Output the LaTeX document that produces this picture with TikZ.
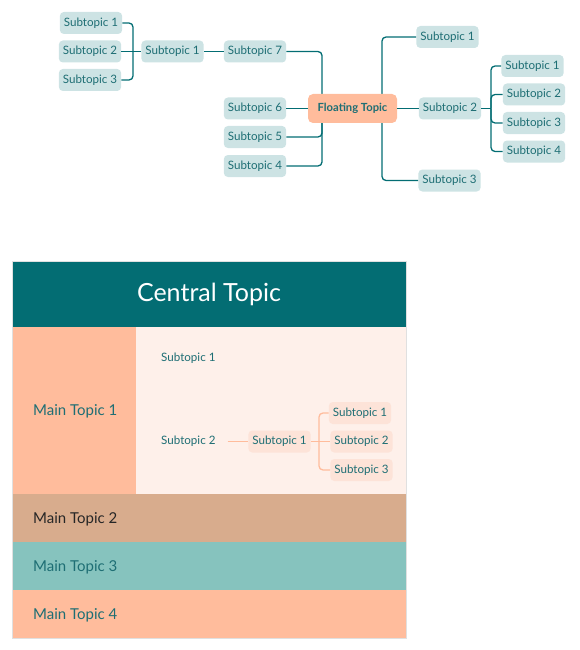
\documentclass[tikz,border=0pt]{standalone}
\usepackage{fontspec}
\setmainfont{Lato}
\definecolor{tealdark}{HTML}{036D73}
\definecolor{tealtxt}{HTML}{1E6E74}
\definecolor{subfill}{HTML}{CDE3E4}
\definecolor{salmon}{HTML}{FFBC9C}
\definecolor{paleback}{HTML}{FEF0EA}
\definecolor{palebox}{HTML}{FDE3D8}
\definecolor{tan}{HTML}{D8AC8D}
\definecolor{mint}{HTML}{86C3BE}
\begin{document}
\begin{tikzpicture}[x=1pt,y=-1pt,
  sub/.style={fill=subfill,rounded corners=4pt,minimum height=22pt,inner xsep=4pt,text=tealtxt,font=\fontsize{11.6}{13}\selectfont},
  float/.style={fill=salmon,rounded corners=5pt,minimum height=29pt,minimum width=89pt,text=tealtxt,font=\fontsize{11.2}{13}\selectfont\bfseries},
  conn/.style={draw=tealdark,line width=1.3pt,rounded corners=4pt},
  pconn/.style={draw=salmon,line width=1.3pt,rounded corners=4pt},
  psub/.style={fill=palebox,rounded corners=4pt,minimum height=22pt,inner xsep=4pt,text=tealtxt,font=\fontsize{11.6}{13}\selectfont},
  ptxt/.style={text=tealtxt,font=\fontsize{11.6}{13}\selectfont,anchor=west,inner sep=0pt},
  mtxt/.style={font=\fontsize{15}{17}\selectfont,anchor=west,inner sep=0pt}]
\useasboundingbox (0,0) rectangle (579,650);
% ---------- top mind map ----------
\node[sub] (L1) at (91,23) {Subtopic 1};
\node[sub] (L2) at (90,51.5) {Subtopic 2};
\node[sub] (L3) at (90,80) {Subtopic 3};
\node[sub] (M1) at (172.5,51.5) {Subtopic 1};
\node[sub] (S7) at (255,51.5) {Subtopic 7};
\node[sub] (S6) at (255,108.5) {Subtopic 6};
\node[sub] (S5) at (255,137) {Subtopic 5};
\node[sub] (S4) at (255,166) {Subtopic 4};
\node[sub] (R1) at (447.5,37) {Subtopic 1};
\node[sub] (R2) at (450,108.5) {Subtopic 2};
\node[sub] (R3) at (449.5,180.5) {Subtopic 3};
\node[sub] (Q1) at (532.5,66) {Subtopic 1};
\node[sub] (Q2) at (534,94.5) {Subtopic 2};
\node[sub] (Q3) at (534,123) {Subtopic 3};
\node[sub] (Q4) at (534,151.5) {Subtopic 4};
\coordinate (jA) at (133,51.5);
\coordinate (FTt) at (322,96);
\coordinate (FTb) at (322,121);
\coordinate (FRt) at (382,96);
\coordinate (FRb) at (382,121);
\coordinate (jQ) at (491,108.5);
\draw[conn] (L1.east) -| (jA);
\draw[conn] (L3.east) -| (jA);
\draw[conn] (L2.east) -- (M1.west);
\draw[conn] (M1.east) -- (S7.west);
\draw[conn] (S7.east) -| (FTt);
\draw[conn] (S5.east) -| (FTb);
\draw[conn] (S4.east) -| (FTb);
\draw[conn] (FRt) |- (R1.west);
\draw[conn] (FRb) |- (R3.west);
\draw[conn] (Q1.west) -| (jQ);
\draw[conn] (Q4.west) -| (jQ);
\draw[conn] (Q2.west) -| (jQ);
\draw[conn] (Q3.west) -| (jQ);
\draw[conn] (R2.east) -- (jQ);
\node[float] (FT) at (352.5,108.5) {Floating Topic};
\draw[conn] (S6.east) -- (FT.west);
\draw[conn] (FT.east) -- (R2.west);
% ---------- table ----------
\fill[tealdark] (12,261) rectangle (406,327);
\node[text=white,font=\fontsize{25}{29}\selectfont] (CT) at (209,294.5) {Central Topic};
\fill[salmon] (12,327) rectangle (136,494);
\fill[paleback] (136,327) rectangle (406,494);
\fill[tan] (12,494) rectangle (406,542);
\fill[mint] (12,542) rectangle (406,590);
\fill[salmon] (12,590) rectangle (406,638);
\draw[black!12,line width=0.6pt] (12,261) rectangle (406,638);
\node[mtxt,text=tealtxt] (MT1) at (33,411) {Main Topic 1};
\node[mtxt,text=black!85] (MT2) at (33,519) {Main Topic 2};
\node[mtxt,text=tealtxt] (MT3) at (33,567) {Main Topic 3};
\node[mtxt,text=tealtxt] (MT4) at (33,615) {Main Topic 4};
\node[ptxt] (T1) at (161,358.5) {Subtopic 1};
\node[ptxt] (T2) at (161,441.5) {Subtopic 2};
\node[psub] (U1) at (279.5,441.5) {Subtopic 1};
\node[psub] (V1) at (360,413) {Subtopic 1};
\node[psub] (V2) at (361.5,441.5) {Subtopic 2};
\node[psub] (V3) at (361.5,470) {Subtopic 3};
\coordinate (jV) at (319,441.5);
\draw[pconn] ([xshift=12pt]T2.east) -- (U1.west);
\draw[pconn] (U1.east) -- (V2.west);
\draw[pconn] (V1.west) -| (jV);
\draw[pconn] (V3.west) -| (jV);
\end{tikzpicture}
\end{document}
